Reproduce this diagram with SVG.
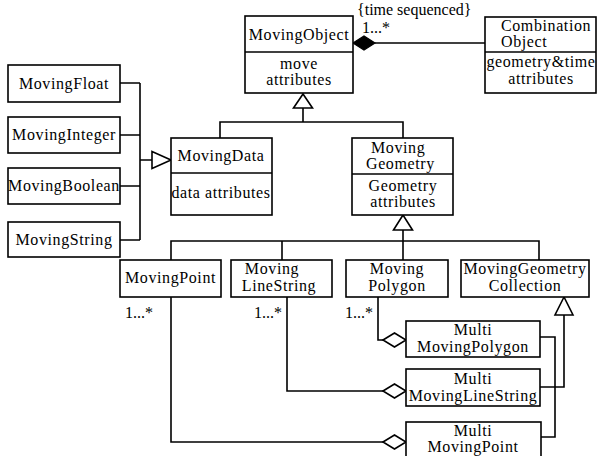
<svg xmlns="http://www.w3.org/2000/svg" width="598" height="456" viewBox="0 0 598 456">
<style>
  rect.box { fill: #fff; stroke: #000; stroke-width: 1.6; }
  line.div { stroke: #000; stroke-width: 1.6; }
  text { font-family: "Liberation Serif", "DejaVu Serif", serif; font-size: 16px; letter-spacing: 0.6px; fill: #000; }
  text.lbl { letter-spacing: 0; }
  .c { text-anchor: middle; }
  .conn path { fill: none; stroke: #000; stroke-width: 1.6; }
  .conn polygon.hollow { fill: #fff; stroke: #000; stroke-width: 1.6; }
  .conn polygon.solid { fill: #000; stroke: #000; stroke-width: 1.2; }
</style>
<rect width="598" height="456" fill="#fff"/>

<g id="connectors" class="conn">
  <path d="M375,43 H485"/>
  <polygon class="solid" points="353,43 364,36 375,43 364,50"/>
  <path d="M303,108 V122 M220,138 V122 H403 V138"/>
  <polygon class="hollow" points="303,94 293.5,108 312.5,108"/>
  <path d="M120,83 H140 M120,135 H140 M120,186 H140 M120,240 H140 M140,83 V240 M140,160 H152"/>
  <polygon class="hollow" points="171,160 152,151.5 152,168.5"/>
  <path d="M403,230 V260 M171,260 V241 H539 V260 M282,241 V260"/>
  <polygon class="hollow" points="403,215 393.5,230 412.5,230"/>
  <path d="M378,297 V340 H383"/>
  <polygon class="hollow" points="383,340 394.5,333 406,340 394.5,347"/>
  <path d="M287,297 V391 H383"/>
  <polygon class="hollow" points="383,391 394.5,384 406,391 394.5,398"/>
  <path d="M171,297 V442 H383"/>
  <polygon class="hollow" points="383,442 394.5,435 406,442 394.5,449"/>
  <path d="M564,315 V387 H540 M540,337 H555 V437 H541"/>
  <polygon class="hollow" points="564,297 555,315 573,315"/>
  <text class="lbl" x="357" y="15">{time sequenced}</text>
  <text class="lbl" x="362" y="33">1...*</text>
  <text class="lbl" x="125" y="318">1...*</text>
  <text class="lbl" x="254" y="318">1...*</text>
  <text class="lbl" x="345" y="318">1...*</text>
</g>

<g id="MovingObject">
  <rect class="box" x="245" y="16" width="108" height="77"/>
  <line class="div" x1="245" y1="52" x2="353" y2="52"/>
  <text class="c" x="299" y="40">MovingObject</text>
  <text class="c" x="299" y="69">move</text>
  <text class="c" x="299" y="85">attributes</text>
</g>

<g id="CombinationObject">
  <rect class="box" x="485" y="17" width="111" height="76"/>
  <line class="div" x1="485" y1="52" x2="596" y2="52"/>
  <text x="501" y="31">Combination</text>
  <text x="501" y="47">Object</text>
  <text class="c" x="541" y="67">geometry&amp;time</text>
  <text class="c" x="541" y="84">attributes</text>
</g>

<g id="MovingFloat">
  <rect class="box" x="8" y="65" width="112" height="37"/>
  <text class="c" x="64" y="89">MovingFloat</text>
</g>
<g id="MovingInteger">
  <rect class="box" x="8" y="117" width="112" height="36"/>
  <text class="c" x="64" y="140">MovingInteger</text>
</g>
<g id="MovingBoolean">
  <rect class="box" x="8" y="168" width="112" height="36"/>
  <text class="c" x="64" y="191">MovingBoolean</text>
</g>
<g id="MovingString">
  <rect class="box" x="8" y="222" width="112" height="35"/>
  <text class="c" x="64" y="245">MovingString</text>
</g>

<g id="MovingData">
  <rect class="box" x="171" y="138" width="101" height="77"/>
  <line class="div" x1="171" y1="173" x2="272" y2="173"/>
  <text class="c" x="221" y="161">MovingData</text>
  <text class="c" x="221" y="198">data attributes</text>
</g>

<g id="MovingGeometry">
  <rect class="box" x="352" y="138" width="101" height="77"/>
  <line class="div" x1="352" y1="174" x2="453" y2="174"/>
  <text x="371" y="153">Moving</text>
  <text x="366" y="169">Geometry</text>
  <text class="c" x="403" y="191">Geometry</text>
  <text class="c" x="403" y="207">attributes</text>
</g>

<g id="MovingPoint">
  <rect class="box" x="120" y="260" width="101" height="37"/>
  <text class="c" x="170.5" y="283">MovingPoint</text>
</g>
<g id="MovingLineString">
  <rect class="box" x="231" y="260" width="101" height="37"/>
  <text class="c" x="272" y="274">Moving</text>
  <text class="c" x="279" y="291">LineString</text>
</g>
<g id="MovingPolygon">
  <rect class="box" x="346" y="260" width="102" height="37"/>
  <text class="c" x="397" y="274">Moving</text>
  <text class="c" x="397" y="291">Polygon</text>
</g>
<g id="MovingGeometryCollection">
  <rect class="box" x="461" y="260" width="128" height="37"/>
  <text class="c" x="525" y="274">MovingGeometry</text>
  <text class="c" x="525" y="291">Collection</text>
</g>

<g id="MultiMovingPolygon">
  <rect class="box" x="406" y="321" width="134" height="36"/>
  <text class="c" x="473" y="335">Multi</text>
  <text class="c" x="473" y="352">MovingPolygon</text>
</g>
<g id="MultiMovingLineString">
  <rect class="box" x="406" y="369" width="134" height="37"/>
  <text class="c" x="473" y="384">Multi</text>
  <text class="c" x="473" y="401">MovingLineString</text>
</g>
<g id="MultiMovingPoint">
  <rect class="box" x="406" y="422" width="135" height="40"/>
  <text class="c" x="473" y="436">Multi</text>
  <text class="c" x="473" y="452">MovingPoint</text>
</g>
</svg>
